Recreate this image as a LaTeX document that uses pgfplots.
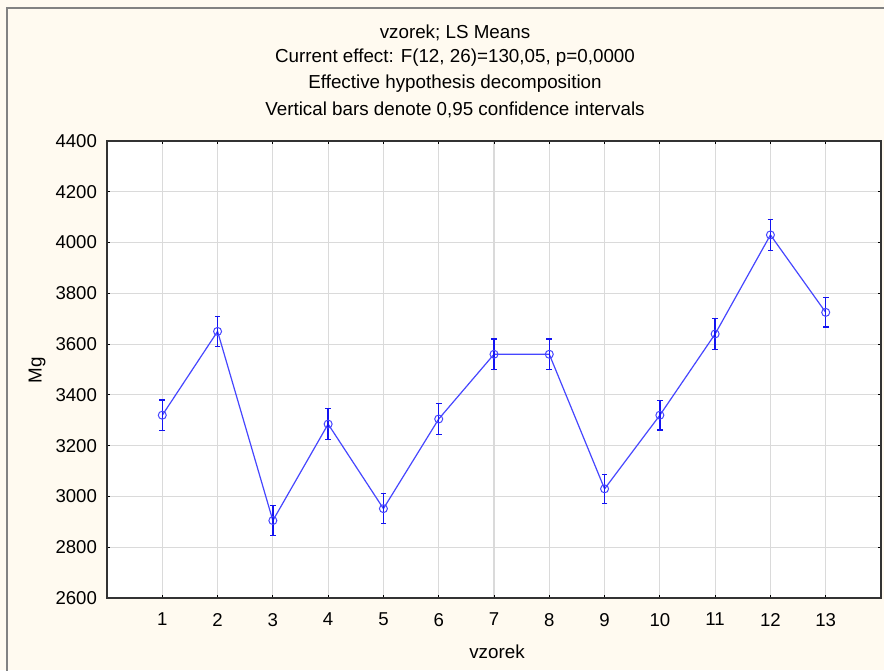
\documentclass[border=0pt]{standalone}
\usepackage{pgfplots}
\pgfplotsset{compat=1.18}
\usepackage{fontspec}
\setmainfont{Liberation Sans}
\definecolor{cream}{RGB}{255,250,240}
\definecolor{lineblue}{RGB}{70,70,255}
\definecolor{barblue}{RGB}{20,20,240}
\definecolor{gridgray}{RGB}{218,218,218}
\definecolor{framegray}{RGB}{130,130,130}
\begin{document}
\begin{tikzpicture}[x=0.5pt,y=0.5pt]
\path[use as bounding box] (0,0) rectangle (884,670);
\fill[cream] (0,0) rectangle (884,670);
\draw[framegray, line width=1.2pt] (7,-2) -- (7,662) -- (886,662);
\tikzset{ttl/.style={font=\fontsize{9.4pt}{11pt}\selectfont}}
\node[ttl] at (455,637) {vzorek; LS Means};
\node[ttl] at (455,612) {Current effect: F(12, 26)=130,05, p=0,0000};
\node[ttl] at (455,586) {Effective hypothesis decomposition};
\node[ttl] at (455,560) {Vertical bars denote 0,95 confidence intervals};
\node[ttl] at (497,18) {vzorek};
\node[ttl, rotate=90] at (37,300) {Mg};
\begin{axis}[
  at={(53.5pt,36pt)}, anchor=south west,
  scale only axis, width=387pt, height=228.5pt,
  xmin=0, xmax=14, ymin=2600, ymax=4400,
  xtick={1,...,13}, ytick={2600,2800,...,4400},
  axis background/.style={fill=white},
  grid=major, major grid style={gridgray, line width=0.6pt},
  tick align=inside, major tick length=1.5pt,
  tick style={black, line width=0.4pt},
  axis line style={black!80, line width=0.6pt},
  tick label style={font=\fontsize{9.3pt}{11pt}\selectfont},
  /pgf/number format/assume math mode=true,
  /pgf/number format/1000 sep={},
  yticklabel style={xshift=-1.5pt},
  xticklabel style={yshift=-4pt},
  clip=false,
]
\addplot[lineblue, line width=0.6pt, mark=o, mark size=2pt,
  mark options={draw=lineblue, line width=0.5pt},
  error bars/.cd, y dir=both, y explicit,
  error bar style={draw=barblue, line width=0.7pt},
  error mark options={draw=barblue, rotate=90, mark size=1.4pt, line width=0.6pt}]
  table[x=x, y=y, y error=e] {
x y e
1 3320 60
2 3650 60
3 2905 60
4 3285 60
5 2952 60
6 3305 60
7 3560 60
8 3560 60
9 3030 58
10 3320 58
11 3640 60
12 4030 60
13 3725 58
};
\end{axis}
\end{tikzpicture}
\end{document}
